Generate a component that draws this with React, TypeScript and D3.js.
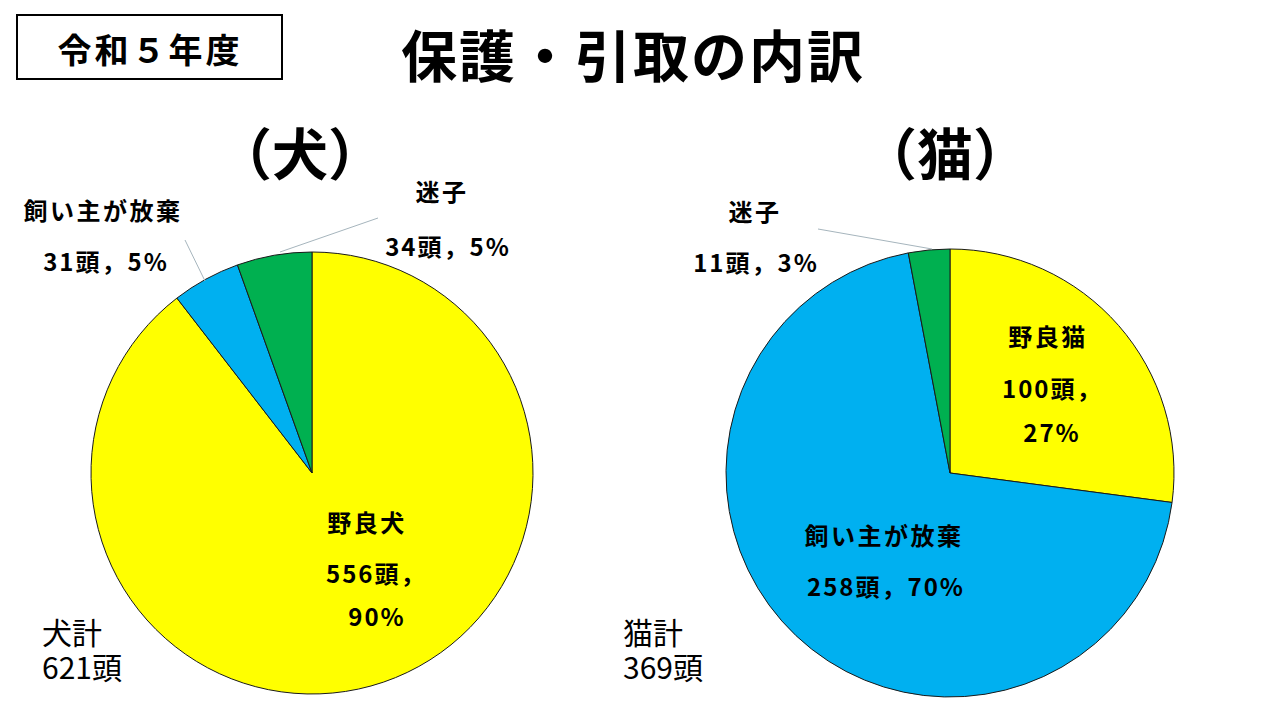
import React from "react";
import * as d3 from "d3";

const dogCategories = ["野良犬", "飼い主が放棄", "迷子"];
const dogValues = [556, 31, 34];
const dogPercents = ["90%", "5%", "5%"];
const catCategories = ["野良猫", "飼い主が放棄", "迷子"];
const catValues = [100, 258, 11];
const catPercents = ["27%", "70%", "3%"];
const colors = ["#FFFF00", "#00B0F0", "#00B050"];

const FONT = "'Noto Sans CJK JP', 'Noto Sans', sans-serif";

type LabelSpec = {
  nameX: number; nameY: number;
  lines: { text: string; x: number; y: number; anchor?: string }[];
  leader?: [number, number, number, number];
};

function Pie({ cx, cy, r, values, labels }: { cx: number; cy: number; r: number; values: number[]; labels: LabelSpec[] }) {
  const pie = d3.pie<number>().sort(null).value((d) => d);
  const arcs = pie(values);
  const arc = d3.arc<d3.PieArcDatum<number>>().innerRadius(0).outerRadius(r);
  return (
    <g>
      <g transform={`translate(${cx},${cy})`}>
        {arcs.map((a, i) => (
          <path key={i} d={arc(a) || ""} fill={colors[i]} stroke="#1a1a1a" strokeWidth={1} />
        ))}
      </g>
      {labels.map((l, i) =>
        l.leader ? (
          <line key={"ld" + i} x1={l.leader[0]} y1={l.leader[1]} x2={l.leader[2]} y2={l.leader[3]} stroke="#A6B5BD" strokeWidth={1} />
        ) : null
      )}
    </g>
  );
}

export default function App() {
  const dogLabels: LabelSpec[] = [
    { nameX: 367, nameY: 521, lines: [{ text: `${dogValues[0]}頭，`, x: 326, y: 572, anchor: "start" }, { text: dogPercents[0], x: 377, y: 615 }] },
    { nameX: 103, nameY: 209, lines: [{ text: `${dogValues[1]}頭，${dogPercents[1]}`, x: 106, y: 260 }], leader: [205, 281, 185, 240] },
    { nameX: 442, nameY: 190, lines: [{ text: `${dogValues[2]}頭，${dogPercents[2]}`, x: 448, y: 245 }], leader: [280, 252, 378, 218] },
  ];
  const catLabels: LabelSpec[] = [
    { nameX: 1048, nameY: 335, lines: [{ text: `${catValues[0]}頭，`, x: 1002, y: 387, anchor: "start" }, { text: catPercents[0], x: 1052, y: 431 }] },
    { nameX: 884, nameY: 534, lines: [{ text: `${catValues[1]}頭，${catPercents[1]}`, x: 886, y: 585 }] },
    { nameX: 755, nameY: 210, lines: [{ text: `${catValues[2]}頭，${catPercents[2]}`, x: 756, y: 261 }], leader: [932, 249, 818, 229] },
  ];
  const dogTotal = d3.sum(dogValues);
  const catTotal = d3.sum(catValues);

  const renderLabels = (labels: LabelSpec[], names: string[]) =>
    labels.map((l, i) => (
      <g key={i}>
        <text x={l.nameX} y={l.nameY} textAnchor="middle" dominantBaseline="central" fontSize={24} letterSpacing={2.5} fontWeight="bold">{names[i]}</text>
        {l.lines.map((ln, j) => (
          <text key={j} x={ln.x} y={ln.y} textAnchor={ln.anchor || "middle"} dominantBaseline="central" fontSize={24} letterSpacing={2} fontWeight="bold">{ln.text}</text>
        ))}
      </g>
    ));

  return (
    <svg width={1280} height={720} style={{ position: "absolute", left: 0, top: 0, background: "#fff" }} fontFamily={FONT}>
      <rect x={0} y={0} width={1280} height={720} fill="#fff" />
      <rect x={17} y={15} width={265} height={64} fill="#fff" stroke="#000" strokeWidth={2} />
      <text x={150} y={48} textAnchor="middle" dominantBaseline="central" fontSize={34} letterSpacing={3} fontWeight="bold">令和５年度</text>
      <text x={633} y={52} textAnchor="middle" dominantBaseline="central" fontSize={56} letterSpacing={2} fontWeight="bold">保護・引取の内訳</text>
      <text x={300} y={150} textAnchor="middle" dominantBaseline="central" fontSize={56} fontWeight="bold">（犬）</text>
      <text x={945} y={150} textAnchor="middle" dominantBaseline="central" fontSize={56} fontWeight="bold">（猫）</text>

      <Pie cx={312} cy={473} r={221} values={dogValues} labels={dogLabels} />
      <Pie cx={950} cy={473} r={224} values={catValues} labels={catLabels} />
      {renderLabels(dogLabels, dogCategories)}
      {renderLabels(catLabels, catCategories)}

      <text x={42} y={644} fontSize={30}>
        <tspan x={42}>犬計</tspan>
        <tspan x={42} dy={35}>{dogTotal}頭</tspan>
      </text>
      <text x={623} y={644} fontSize={30}>
        <tspan x={623}>猫計</tspan>
        <tspan x={623} dy={35}>{catTotal}頭</tspan>
      </text>
    </svg>
  );
}
